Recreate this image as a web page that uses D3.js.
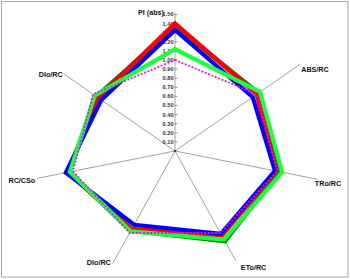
<!DOCTYPE html>
<html>
<head>
<meta charset="utf-8">
<script src="https://cdn.jsdelivr.net/npm/d3@7"></script>
<style>
  body { margin: 0; background: #fff; }
  svg { display: block; font-family: "Liberation Sans", Arial, sans-serif; }
</style>
</head>
<body>
<div id="chart"></div>
<script>
// categories, clockwise from the top
let categories = ['PI (abs)', 'ABS/RC', 'TRo/RC', 'ETo/RC', 'DIo/RC', 'RC/CSo', 'DIo/RC']

// series values, same order as categories
let seriesRed       = [1.40, 1.00, 0.99, 1.03, 0.95, 1.05, 0.94]
let seriesDarkGreen = [1.37, 1.02, 1.02, 1.10, 0.97, 1.04, 0.96]
let seriesBlue      = [1.33, 0.95, 0.98, 1.01, 0.90, 1.07, 0.90]
let seriesGreen     = [1.12, 1.04, 1.05, 1.08, 0.98, 1.03, 0.98]
let seriesControl   = [1.00, 1.00, 1.00, 1.00, 1.00, 1.00, 1.00]

let tickValues = [0.10, 0.20, 0.30, 0.40, 0.50, 0.60, 0.70, 0.80, 0.90, 1.00, 1.10, 1.20, 1.30, 1.40, 1.50]

let width = 350
let height = 279
let cx = 175
let cy = 151
let maxValue = 1.5

// picture is a bit wider than tall
let rX = d3.scaleLinear().domain([0, maxValue]).range([0, 157])
let rY = d3.scaleLinear().domain([0, maxValue]).range([0, 136.5])

// layout of the axis lines and their labels
let axisLength = [1.52, 1.53, 1.40, 1.34, 1.37, 1.35, 1.36]
let labelAnchor = ['end', 'start', 'start', 'start', 'end', 'end', 'end']
let labelOffset = [[-11, 2], [1, 8], [-3, 7], [5, 9], [-2, 2], [-2, 5], [-1, 3]]

let angle = i => Math.PI / 2 - i * 2 * Math.PI / categories.length
let px = (i, v) => cx + rX(v) * Math.cos(angle(i))
let py = (i, v) => cy - rY(v) * Math.sin(angle(i))

let svg = d3.select('#chart')
  .append('svg')
    .attr('width', width)
    .attr('height', height)

svg.append('rect')
  .attr('x', 1.5).attr('y', 1.5)
  .attr('width', width - 3.5).attr('height', height - 3.5)
  .attr('fill', '#fff')
  .attr('stroke', '#a8a8a8')
  .attr('stroke-width', 1)

let vis = svg.append('g')

// spokes
vis.selectAll('line.spoke')
  .data(categories)
  .enter()
  .append('line')
    .attr('class', 'spoke')
    .attr('x1', cx).attr('y1', cy)
    .attr('x2', (d, i) => px(i, axisLength[i]))
    .attr('y2', (d, i) => py(i, axisLength[i]))
    .attr('stroke', '#8a8a8a')
    .attr('stroke-width', 0.8)

// value axis on the first spoke
vis.selectAll('line.tick')
  .data(tickValues)
  .enter()
  .append('line')
    .attr('class', 'tick')
    .attr('x1', cx).attr('x2', cx + 2.5)
    .attr('y1', d => cy - rY(d)).attr('y2', d => cy - rY(d))
    .attr('stroke', '#666')
    .attr('stroke-width', 0.7)

vis.selectAll('text.ticklabel')
  .data(tickValues)
  .enter()
  .append('text')
    .attr('class', 'ticklabel')
    .attr('x', cx - 1.5)
    .attr('y', d => cy - rY(d))
    .attr('dy', '0.35em')
    .attr('text-anchor', 'end')
    .attr('font-size', 5.6)
    .attr('font-weight', 'bold')
    .attr('fill', '#333')
    .text(d => d.toFixed(2))

vis.append('circle')
  .attr('cx', cx).attr('cy', cy).attr('r', 1)
  .attr('fill', '#222')

// series, in drawing order
let series = [
  {values: seriesDarkGreen, color: '#008a00', width: 4.5, dash: null},
  {values: seriesRed, color: '#ff0000', width: 4.5, dash: null},
  {values: seriesBlue, color: '#0000ff', width: 4.2, dash: null},
  {values: seriesGreen, color: '#1cff3c', width: 4.2, dash: null},
  {values: seriesControl, color: '#ff00ff', width: 1.8, dash: '1.8,1.8'}
]

let line = d3.line()
  .x((d, i) => px(i, d))
  .y((d, i) => py(i, d))
  .curve(d3.curveLinearClosed)

vis.selectAll('path.series')
  .data(series)
  .enter()
  .append('path')
    .attr('class', 'series')
    .attr('d', d => line(d.values))
    .attr('fill', 'none')
    .attr('stroke', d => d.color)
    .attr('stroke-width', d => d.width)
    .attr('stroke-linejoin', 'miter')
    .attr('stroke-dasharray', d => d.dash)

// category labels
vis.selectAll('text.label')
  .data(categories)
  .enter()
  .append('text')
    .attr('class', 'label')
    .attr('x', (d, i) => px(i, axisLength[i]) + labelOffset[i][0])
    .attr('y', (d, i) => py(i, axisLength[i]) + labelOffset[i][1])
    .attr('text-anchor', (d, i) => labelAnchor[i])
    .attr('font-size', 7.2)
    .attr('font-weight', 'bold')
    .attr('fill', '#111')
    .text(d => d)
</script>
</body>
</html>
